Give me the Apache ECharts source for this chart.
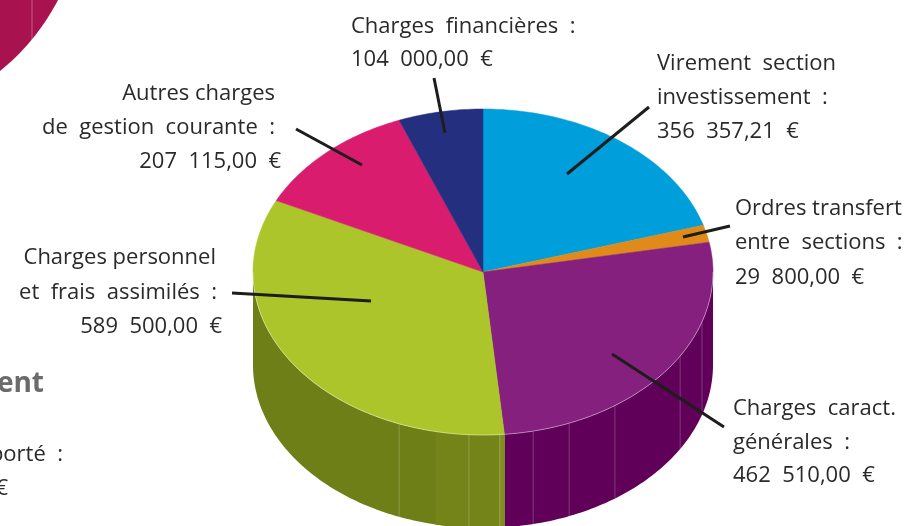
<!DOCTYPE html>
<html>
<head>
<meta charset="utf-8">
<title>Charges</title>
<script src="https://cdn.jsdelivr.net/npm/echarts@6/dist/echarts.min.js"></script>
<style>
  html, body { margin: 0; padding: 0; background: #fff; }
  #chart { width: 905px; height: 526px; }
</style>
</head>
<body>
<div id="chart"></div>
<script>
// montants, dans le sens horaire depuis midi
var categories = ['Virement section investissement', 'Ordres transfert entre sections', 'Charges caract. générales', 'Charges personnel et frais assimilés', 'Autres charges de gestion courante', 'Charges financières'];
var values = [356357.21, 29800, 462510, 589500, 207115, 104000];
var topColors = ['#009fdb', '#e08a1a', '#86207f', '#abc52a', '#da1c6f', '#24307f'];
var wallColors = ['#009fdb', '#e08a1a', '#600058', '#6f7f17', '#a8134f', '#24307f'];
// doubles espaces : l'original est très espacé
var valueLabels = ['356  357,21  €', '29  800,00  €', '462  510,00  €', '589  500,00  €', '207  115,00  €', '104  000,00  €'];

var CX = 483, CY = 272, RX = 230, RY = 163, DEPTH = 93;
var total = values.reduce(function(a, b) { return a + b; }, 0);

// angle en degrés depuis midi -> point sur l'ellipse
function pt(deg, dy) {
  var a = deg * Math.PI / 180;
  return [CX + RX * Math.sin(a), CY - RY * Math.cos(a) + (dy || 0)];
}
function startAngle(i) {
  var s = 0;
  for (var k = 0; k < i; k++) s += values[k];
  return s / total * 360;
}
function arc(a0, a1, dy) {
  var pts = [], n = Math.max(2, Math.ceil(Math.abs(a1 - a0)));
  for (var i = 0; i <= n; i++) pts.push(pt(a0 + (a1 - a0) * i / n, dy));
  return pts;
}

// reflets de la tranche (angles)
var ribAngles = [107.8, 121, 145, 158, 167.4, 175.8, 183.5, 201.4];
var greenShades = [[176, 174.6, '#7e8f1e'], [192, 176, '#748419']];

function renderWall(params, api) {
  var i = params.dataIndex;
  var a0 = startAngle(i), a1 = a0 + api.value(0) / total * 360;
  var from = Math.max(a0, 90), to = Math.min(a1, 270);
  if (from >= to) return { type: 'group', children: [] };
  var children = [{
    type: 'polygon',
    shape: { points: arc(from, to, 0).concat(arc(to, from, DEPTH)) },
    style: { fill: wallColors[i] }
  }];
  if (i === 3) {
    greenShades.forEach(function(s) {
      children.push({
        type: 'polygon',
        shape: { points: arc(s[1], s[0], 0).concat(arc(s[0], s[1], DEPTH)) },
        style: { fill: s[2] }
      });
    });
  }
  ribAngles.forEach(function(r) {
    if (r > from && r < to) {
      var p = pt(r, 0), q = pt(r, DEPTH);
      children.push({
        type: 'line',
        shape: { x1: p[0], y1: p[1], x2: q[0], y2: q[1] },
        style: { stroke: 'rgba(255,255,255,0.22)', lineWidth: 1 }
      });
    }
  });
  return { type: 'group', children: children };
}

function renderTop(params, api) {
  var i = params.dataIndex;
  var a0 = startAngle(i), a1 = a0 + api.value(0) / total * 360;
  var children = [{
    type: 'polygon',
    shape: { points: [[CX, CY]].concat(arc(a0, a1, 0)) },
    style: { fill: topColors[i], stroke: topColors[i], lineWidth: 0.5 }
  }];
  var from = Math.max(a0, 90), to = Math.min(a1, 270);
  if (from < to) {
    children.push({
      type: 'polyline',
      shape: { points: arc(from, to, 0) },
      style: { fill: null, stroke: 'rgba(255,255,255,0.4)', lineWidth: 1 }
    });
  }
  return { type: 'group', children: children };
}

// étiquettes : [texte, x, y du centre, alignement]
var labels = [
  ['Charges  financières  :', 351, 27, 'left'], [valueLabels[5], 351, 60, 'left'],
  ['Virement  section', 657, 64, 'left'], ['investissement  :', 657, 98, 'left'], [valueLabels[0], 657, 132, 'left'],
  ['Ordres transfert', 735, 209, 'left'], ['entre  sections  :', 735, 243, 'left'], [valueLabels[1], 735, 278, 'left'],
  ['Charges  caract.', 733, 409, 'left'], ['générales  :', 733, 443, 'left'], [valueLabels[2], 733, 476, 'left'],
  ['Autres charges', 275, 94, 'right'], ['de  gestion  courante  :', 275, 128, 'right'], [valueLabels[4], 281, 162, 'right'],
  ['Charges personnel', 216, 258, 'right'], ['et  frais  assimilés  :', 217, 293, 'right'], [valueLabels[3], 222, 327, 'right'],
  ['porté  :', 63, 455, 'right'], ['€', 8, 489, 'right']
];
// traits de rappel
var leaders = [
  [434, 78, 445, 133], [649, 107, 567, 174], [730, 226, 683, 237],
  [612, 354, 724, 427], [232, 293, 371, 301], [296, 129, 362, 165]
];

var graphics = [];
// morceau de l'autre camembert en haut à gauche
var cornerPts = [[0, 0]];
for (var c = 0; c <= 20; c++) {
  var t = c / 20;
  cornerPts.push([58 * (1 - t) * (1 - t) + 2 * t * (1 - t) * 36, 2 * t * (1 - t) * 42 + t * t * 71]);
}
graphics.push({ type: 'polygon', shape: { points: cornerPts }, style: { fill: '#a8134f' }, z: 1 });
graphics.push({ type: 'line', shape: { x1: 32, y1: 0, x2: 32, y2: 42 }, style: { stroke: 'rgba(255,255,255,0.3)', lineWidth: 1 }, z: 2 });
leaders.forEach(function(l) {
  graphics.push({ type: 'line', shape: { x1: l[0], y1: l[1], x2: l[2], y2: l[3] }, style: { stroke: '#1d1d1b', lineWidth: 3 }, z: 20 });
});
labels.forEach(function(t) {
  graphics.push({
    type: 'text', x: t[1], y: t[2], z: 20,
    style: { text: t[0], fill: '#2b2a29', font: '22px "Open Sans", sans-serif', textAlign: t[3], textVerticalAlign: 'middle' }
  });
});
graphics.push({
  type: 'text', x: 44, y: 384, z: 20,
  style: { text: 'ent', fill: '#6b6b6d', font: 'bold 28px "Open Sans", sans-serif', textAlign: 'right', textVerticalAlign: 'middle' }
});

var myChart = echarts.init(document.getElementById('chart'));
var option = {
  animation: false,
  graphic: graphics,
  series: [{
    name: 'tranche',
    type: 'custom',
    coordinateSystem: 'none',
    z: 2,
    renderItem: renderWall,
    data: values.map(function(v, i) { return { name: categories[i], value: [v] }; })
  }, {
    name: 'dessus',
    type: 'custom',
    coordinateSystem: 'none',
    z: 3,
    renderItem: renderTop,
    data: values.map(function(v, i) { return { name: categories[i], value: [v] }; })
  }]
};
myChart.setOption(option);
</script>
</body>
</html>
